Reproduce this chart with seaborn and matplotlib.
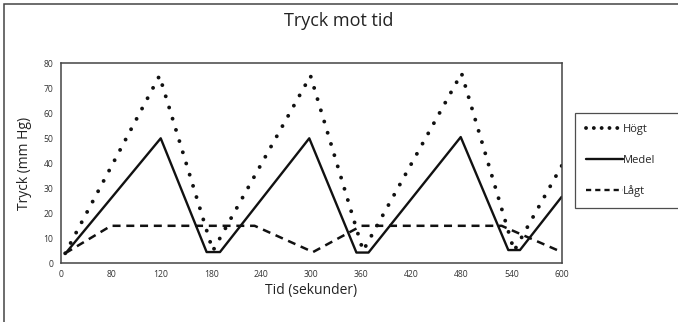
import matplotlib
matplotlib.use("Agg")
import matplotlib.pyplot as plt
from matplotlib.patches import Rectangle
from matplotlib.lines import Line2D
import seaborn as sns
import pandas as pd

# Pressure readings (mm Hg) over time (seconds)
tid_hogt = [5, 118, 182, 299, 362, 480, 543, 600]
tryck_hogt = [4, 75, 5, 75, 5, 76, 5, 39]

tid_medel = [5.5, 119.5, 174.5, 190.5, 297.5, 354, 368.5, 479, 536, 550, 600]
tryck_medel = [4, 50, 4.5, 4.5, 50, 4.3, 4.3, 50.5, 5.3, 5.3, 26.6]

tid_lagt = [5, 60, 232, 302, 360, 528, 600]
tryck_lagt = [4, 15, 15, 4.5, 15, 15, 4.5]

x_ticks = [0, 60, 120, 180, 240, 300, 360, 420, 480, 540, 600]
x_tick_labels = ["0", "80", "120", "180", "240", "300", "360", "420", "480", "540", "600"]
y_ticks = [0, 10, 20, 30, 40, 50, 60, 70, 80]

sns.set_theme(style="white")
plt.rcParams["font.family"] = ["Open Sans", "DejaVu Sans"]

W, H = 678, 322
fig = plt.figure(figsize=(W / 100, H / 100), dpi=100)
ax = fig.add_axes([61 / W, 1 - 263.3 / H, 500.7 / W, 200 / H])

ink = "#111111"
dot_style = (0, (0.01, 3.0))
dash_style = (0, (3.2, 2.3))

df_h = pd.DataFrame({"tid": tid_hogt, "tryck": tryck_hogt})
df_m = pd.DataFrame({"tid": tid_medel, "tryck": tryck_medel})
df_l = pd.DataFrame({"tid": tid_lagt, "tryck": tryck_lagt})

sns.lineplot(data=df_h, x="tid", y="tryck", ax=ax, color=ink, lw=2.8,
             linestyle=dot_style, dash_capstyle="round",
             sort=False, estimator=None)
sns.lineplot(data=df_m, x="tid", y="tryck", ax=ax, color=ink, lw=1.7,
             sort=False, estimator=None)
sns.lineplot(data=df_l, x="tid", y="tryck", ax=ax, color=ink, lw=1.8,
             linestyle=dash_style, sort=False, estimator=None)

ax.set_xlim(0, 600)
ax.set_ylim(0, 80)
ax.set_xticks(x_ticks)
ax.set_xticklabels(x_tick_labels)
ax.set_yticks(y_ticks)
ax.tick_params(axis="x", direction="in", length=4, width=0.9, colors="#333333",
               labelsize=6.2, pad=5)
ax.tick_params(axis="y", direction="out", length=4, width=0.9, colors="#333333",
               labelsize=6.2, pad=1.5)
for s in ax.spines.values():
    s.set_color("#444444")
    s.set_linewidth(1.1)
ax.set_xlabel("Tid (sekunder)", fontsize=10, color="#222222", labelpad=3)
ax.set_ylabel("Tryck (mm Hg)", fontsize=10, color="#222222", labelpad=8)

fig.text(339 / W, 1 - 21 / H, "Tryck mot tid", ha="center", va="center",
         fontsize=13, color="#222222")

# outer frame, open to the right and bottom
fig.add_artist(Rectangle((3.5 / W, -0.2), 1.2, 1.2 - 4 / H, transform=fig.transFigure,
                         fill=False, edgecolor="#444444", lw=1.1))

handles = [
    Line2D([], [], color=ink, lw=2.8, linestyle=(0, (0.01, 2.0)), dash_capstyle="round"),
    Line2D([], [], color=ink, lw=1.7),
    Line2D([], [], color=ink, lw=1.7, linestyle=(0, (2.2, 1.7))),
]
leg = fig.legend(handles, ["Högt", "Medel", "Lågt"],
                 loc="upper left", bbox_to_anchor=(575 / W, 1 - 113 / H, 140 / W, 0),
                 mode="expand",
                 frameon=True, fancybox=False, fontsize=8,
                 handlelength=3.3, handletextpad=0.05, labelspacing=1.75,
                 borderpad=1.0, borderaxespad=0)
leg.get_frame().set_edgecolor("#222222")
leg.get_frame().set_linewidth(0.9)

fig.savefig("out.png", dpi=100)
